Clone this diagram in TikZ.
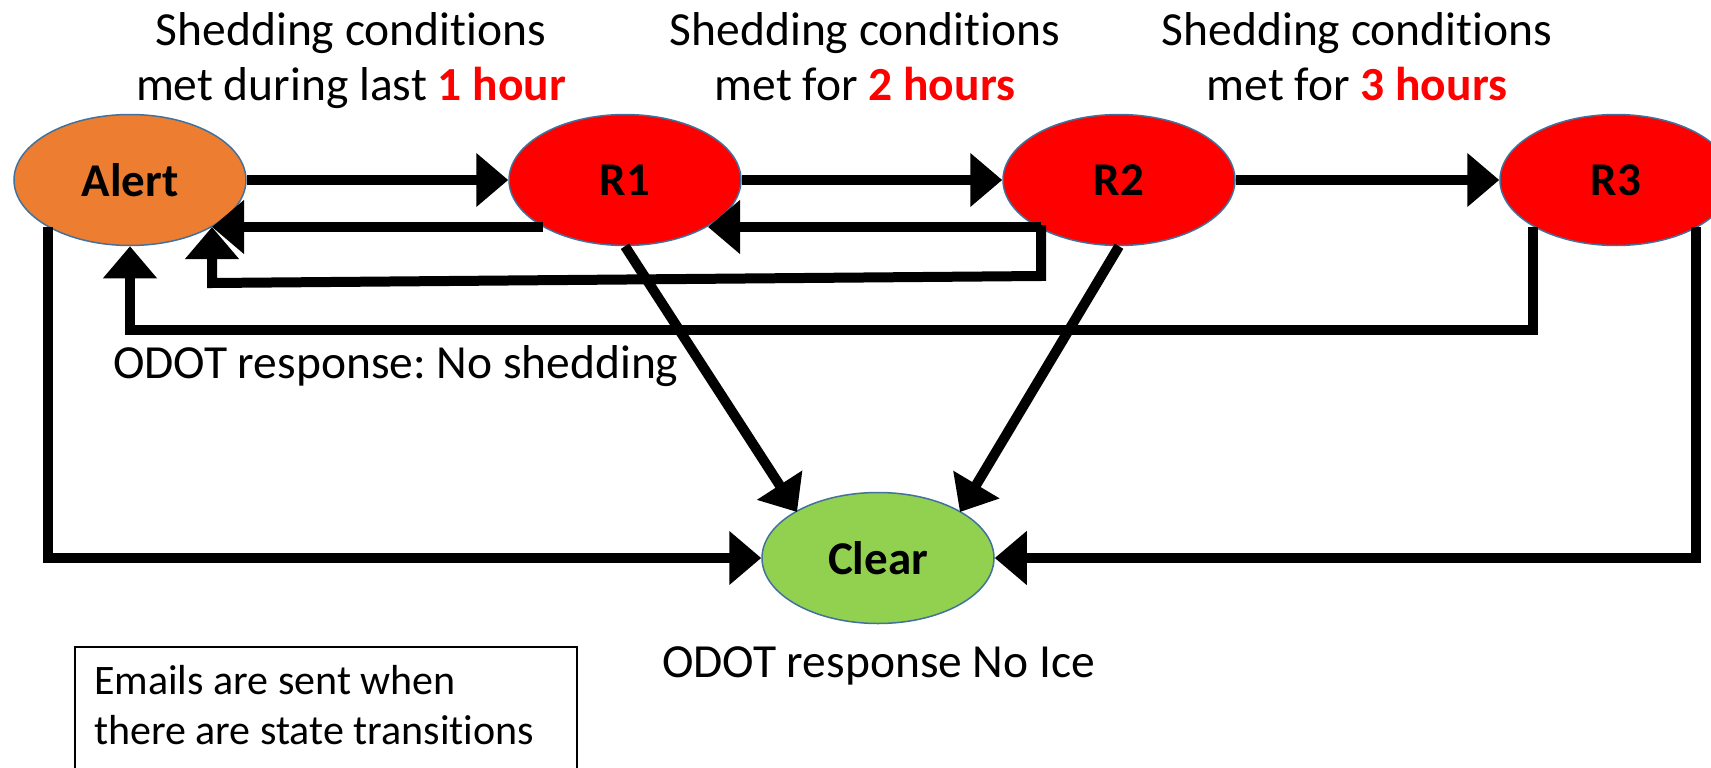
\documentclass[tikz,border=0pt]{standalone}
\usepackage{fontspec}
\setmainfont{Carlito}[Ligatures=NoCommon]
\frenchspacing
\usetikzlibrary{shapes.geometric,arrows.meta,calc}
\definecolor{alertc}{HTML}{ED7D31}
\definecolor{redc}{HTML}{FF0000}
\definecolor{clearc}{HTML}{92D050}
\definecolor{edgec}{HTML}{41719C}
\begin{document}
\begin{tikzpicture}[x=1pt,y=-1pt,
 state/.style={ellipse, draw=edgec, line width=1.5pt, minimum width=232pt, minimum height=131pt, inner sep=0pt, font=\fontsize{47}{55}\selectfont\bfseries},
 conn/.style={line width=10pt, -{Triangle[length=32pt,width=52pt]}},
 lbl/.style={inner sep=0pt, font=\fontsize{47.5}{55}\selectfont, align=center},
 boxtxt/.style={inner sep=0pt, font=\fontsize{42}{50}\selectfont, align=left},
]
\useasboundingbox (0,0) rectangle (1711,768);
\clip (0,0) rectangle (1711,768);

% states
\node[state, fill=alertc] (Alert) at (130,180) {Alert};
\node[state, fill=redc] (R1) at (625,180) {R1};
\node[state, fill=redc] (R2) at (1119,180) {R2};
\node[state, fill=redc] (R3) at (1616,180) {R3};
\node[state, fill=clearc] (Clear) at (878,558) {Clear};

% anchor points
\coordinate (aSE) at ($(Alert.center)+(82,47)$);
\coordinate (aFoot) at ($(Alert.center)+(-82,47)$);
\coordinate (r1SW) at ($(R1.center)+(-82,47)$);
\coordinate (r1SE) at ($(R1.center)+(83,47)$);
\coordinate (r2SW) at ($(R2.center)+(-78,47)$);
\coordinate (r3SW) at ($(R3.center)+(-83,47)$);
\coordinate (r3SE) at ($(R3.center)+(80,47)$);
\coordinate (cNW) at ($(Clear.center)+(-81,-46)$);
\coordinate (cNE) at ($(Clear.center)+(82,-46)$);

% forward transitions
\draw[conn] (Alert.east) -- (R1.west);
\draw[conn] (R1.east) -- (R2.west);
\draw[conn] (R2.east) -- (R3.west);

% back transitions
\draw[conn] (r1SW) -- (aSE);
\draw[conn] (r2SW) -- (r1SE);
\draw[conn] ($(r2SW)+(0,-2)$) -- ++(0,51) -- ($(aSE)+(0,56)$) -- (aSE);
\draw[conn] (r3SW) -- ++(0,103) -| (Alert.south);

% to Clear
\draw[conn] (R1.south) -- (cNW);
\draw[conn] (R2.south) -- (cNE);
\draw[conn] (aFoot) |- (Clear.west);
\draw[conn] (r3SE) |- (Clear.east);

% labels
\node[lbl, anchor=base] (h1) at (351,100) {Shedding conditions\\met during last {\bfseries\color{redc}1 hour}};
\node[lbl, anchor=base] (h2) at (865,100) {Shedding conditions\\met for {\bfseries\color{redc}2 hours}};
\node[lbl, anchor=base] (h3) at (1357,100) {Shedding conditions\\met for {\bfseries\color{redc}3 hours}};
\node[lbl, anchor=base west] (odot1) at (113,378) {ODOT response: No shedding};
\node[lbl, anchor=base west] (odot2) at (662,677) {ODOT response No Ice};

% note box
\draw[line width=1.5pt] (75,647) rectangle (577,800);
\node[boxtxt, anchor=base west] (note) at (94,744) {Emails are sent when\\there are state transitions};
\end{tikzpicture}
\end{document}
